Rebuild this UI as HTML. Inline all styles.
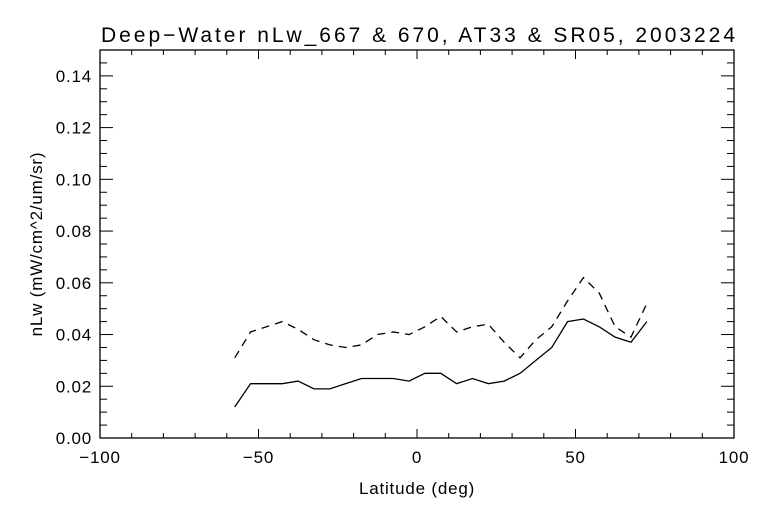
<!DOCTYPE html>
<html><head><meta charset="utf-8"><style>
body{margin:0;background:#fff}
svg text{font-family:"Liberation Sans",sans-serif;fill:#000}
</style></head><body>
<svg id="chart" width="768" height="512" xmlns="http://www.w3.org/2000/svg">
<rect width="768" height="512" fill="#fff"/>
<text x="101" y="42" font-size="21" textLength="634" lengthAdjust="spacing">Deep−Water nLw_667 &amp; 670, AT33 &amp; SR05, 2003224</text>
<text x="417" y="494" font-size="17" text-anchor="middle" letter-spacing="0.8">Latitude (deg)</text>
<text transform="translate(42,244) rotate(-90)" font-size="17" text-anchor="middle" letter-spacing="0.8">nLw (mW/cm^2/um/sr)</text>
<g id="axes"></g>
<g id="series"></g>
</svg>
<script>
const lats=[-57.5,-52.5,-47.5,-42.5,-37.5,-32.5,-27.5,-22.5,-17.5,-12.5,-7.5,-2.5,2.5,7.5,12.5,17.5,22.5,27.5,32.5,37.5,42.5,47.5,52.5,57.5,62.5,67.5,72.5];
const solid=[0.012,0.021,0.021,0.021,0.022,0.019,0.019,0.021,0.023,0.023,0.023,0.022,0.025,0.025,0.021,0.023,0.021,0.022,0.025,0.030,0.035,0.045,0.046,0.043,0.039,0.037,0.045];
const dashed=[0.031,0.041,0.043,0.045,0.042,0.038,0.036,0.035,0.036,0.040,0.041,0.040,0.043,0.047,0.041,0.043,0.044,0.037,0.031,0.038,0.043,0.053,0.062,0.056,0.043,0.039,0.052];
const xTicks=[-100,-50,0,50,100];
const yTicks=[0,0.02,0.04,0.06,0.08,0.10,0.12,0.14];
const L=100,R=734,T=50,B=438;
const xs=v=>L+(v+100)/200*(R-L);
const ys=v=>B-v/0.15*(B-T);
const ns="http://www.w3.org/2000/svg";
function mk(tag,attrs,parent){const e=document.createElementNS(ns,tag);for(const k in attrs)e.setAttribute(k,attrs[k]);parent.appendChild(e);return e;}
const ax=document.getElementById('axes');
const frame=mk('rect',{x:L,y:T,width:R-L,height:B-T,fill:'none',stroke:'#000','stroke-width':1.3},ax);


for(let v=-100;v<=100;v+=10){
  const major=v%50===0, len=major?9:5, x=xs(v);
  const t1=mk('line',{x1:x,x2:x,y1:B,y2:B-len,stroke:'#000'},ax);
  
  
  const t2=mk('line',{x1:x,x2:x,y1:T,y2:T+len,stroke:'#000'},ax);
  
  
}
xTicks.forEach(v=>{
  const t=mk('text',{x:xs(v),y:B+25,'font-size':17,'text-anchor':'middle','letter-spacing':0.8},ax);
  t.textContent=v===0?'0':(v<0?'−'+(-v):String(v));
  
  
});
for(let i=0;i<=30;i++){
  const v=i*0.005, major=i%4===0, len=major?13:7, y=ys(v);
  const t1=mk('line',{x1:L,x2:L+len,y1:y,y2:y,stroke:'#000'},ax);
  
  
  const t2=mk('line',{x1:R,x2:R-len,y1:y,y2:y,stroke:'#000'},ax);
  
  
}
yTicks.forEach(v=>{
  const t=mk('text',{x:L-8,y:ys(v)+6,'font-size':17,'text-anchor':'end','letter-spacing':0.8},ax);
  t.textContent=v.toFixed(2);
  
  
});
const sg=document.getElementById('series');
function line(vals,dash,name){
  const p=mk('polyline',{points:lats.map((l,i)=>xs(l)+','+ys(vals[i])).join(' '),fill:'none',stroke:'#000','stroke-width':1.3},sg);
  if(dash)p.setAttribute('stroke-dasharray','8 6');
  
  
}
line(solid,false,'nlw-667-line');
line(dashed,true,'nlw-670-dashed-line');
</script>
</body></html>
